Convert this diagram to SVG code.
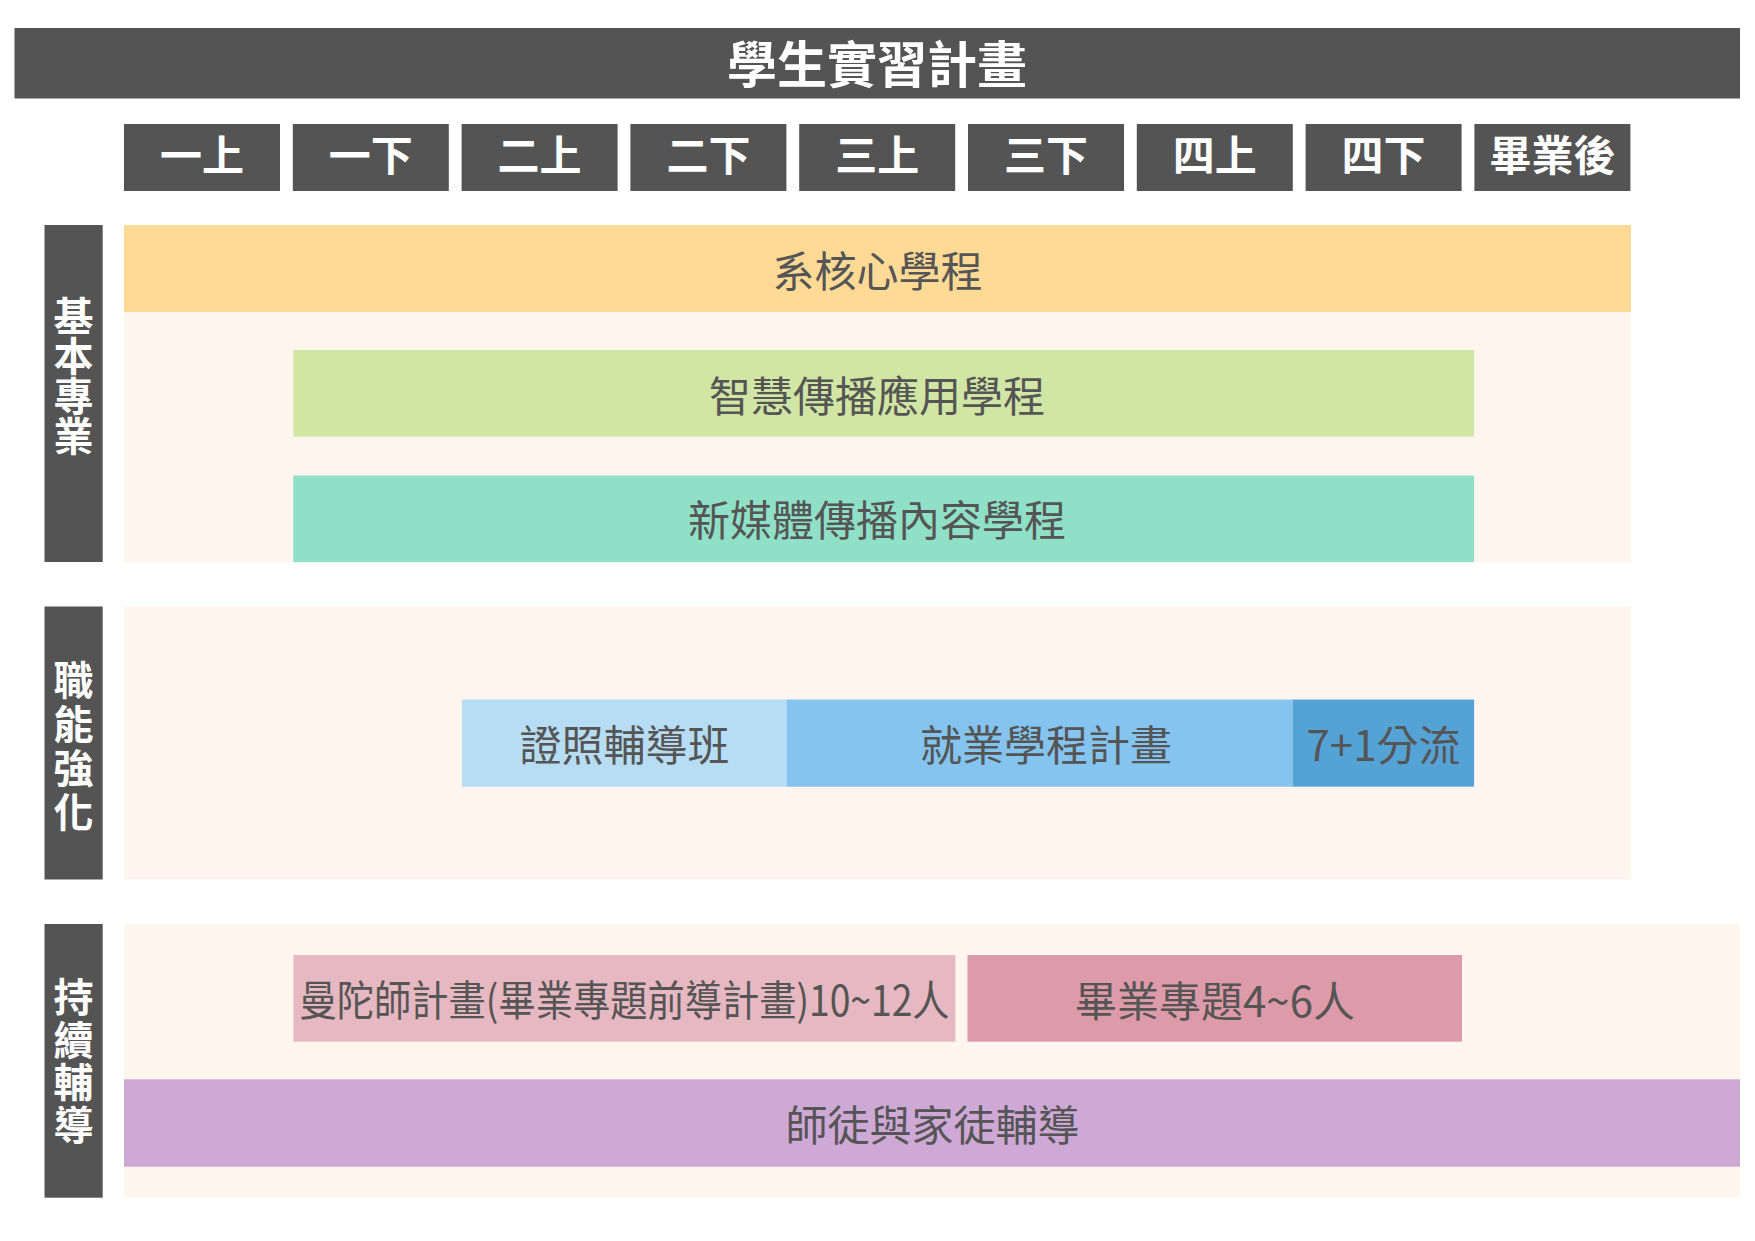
<svg xmlns="http://www.w3.org/2000/svg" width="1755" height="1241" viewBox="0 0 1755 1241">
<style>
  .dark { fill: #545454; }
  .panel { fill: #FEF5EE; }
  .hd { font-family: "Noto Sans CJK TC", "Noto Sans CJK SC", sans-serif; font-weight: 700; fill: #FFFFFF; text-anchor: middle; }
  .lbl { font-family: "Noto Sans CJK TC", "Noto Sans CJK SC", sans-serif; font-weight: 400; fill: #555555; text-anchor: middle; font-size: 42px; }
  .side { font-family: "Noto Sans CJK TC", "Noto Sans CJK SC", sans-serif; font-weight: 700; fill: #FFFFFF; text-anchor: middle; font-size: 40px; writing-mode: vertical-rl; text-orientation: upright; }
</style>
<rect width="1755" height="1241" fill="#FFFFFF"/>

<g id="title">
  <rect class="dark" x="14.5" y="28" width="1725.5" height="70.5"/>
  <text class="hd" x="877" y="82.5" font-size="50">學生實習計畫</text>
</g>

<g id="years">
  <g id="y1"><rect class="dark" x="124" y="124" width="156" height="67"/><text class="hd" x="202" y="171.3" font-size="42">一上</text></g>
  <g id="y2"><rect class="dark" x="292.8" y="124" width="156" height="67"/><text class="hd" x="370.8" y="171.3" font-size="42">一下</text></g>
  <g id="y3"><rect class="dark" x="461.6" y="124" width="156" height="67"/><text class="hd" x="539.6" y="171.3" font-size="42">二上</text></g>
  <g id="y4"><rect class="dark" x="630.4" y="124" width="156" height="67"/><text class="hd" x="708.4" y="171.3" font-size="42">二下</text></g>
  <g id="y5"><rect class="dark" x="799.2" y="124" width="156" height="67"/><text class="hd" x="877.2" y="171.3" font-size="42">三上</text></g>
  <g id="y6"><rect class="dark" x="968" y="124" width="156" height="67"/><text class="hd" x="1046" y="171.3" font-size="42">三下</text></g>
  <g id="y7"><rect class="dark" x="1136.8" y="124" width="156" height="67"/><text class="hd" x="1214.8" y="171.3" font-size="42">四上</text></g>
  <g id="y8"><rect class="dark" x="1305.6" y="124" width="156" height="67"/><text class="hd" x="1383.6" y="171.3" font-size="42">四下</text></g>
  <g id="y9"><rect class="dark" x="1474.4" y="124" width="156" height="67"/><text class="hd" x="1552.4" y="171.3" font-size="42">畢業後</text></g>
</g>

<g id="section-basic">
  <rect class="panel" x="124" y="225" width="1507" height="337"/>
  <rect class="dark" x="44.5" y="225" width="58.2" height="337"/>
  <text class="side" x="73.6" y="376">基本專業</text>
</g>
<g id="core">
  <rect x="124" y="225" width="1507" height="87" fill="#FFDA95"/>
  <text class="lbl" x="877.5" y="287">系核心學程</text>
</g>
<g id="smart">
  <rect x="293.3" y="350" width="1180.8" height="86.7" fill="#D1E6A4"/>
  <text class="lbl" x="877" y="411.5">智慧傳播應用學程</text>
</g>
<g id="newmedia">
  <rect x="293.3" y="475.5" width="1180.8" height="86.7" fill="#90E0C7"/>
  <text class="lbl" x="877" y="536">新媒體傳播內容學程</text>
</g>

<g id="section-skill">
  <rect class="panel" x="124" y="606.5" width="1507" height="273"/>
  <rect class="dark" x="44.5" y="606.5" width="58.2" height="273"/>
  <text class="side" x="73.6" y="748" letter-spacing="4">職能強化</text>
</g>
<g id="cert">
  <rect x="462" y="699.5" width="324.5" height="87.2" fill="#B7DDF4"/>
  <text class="lbl" x="624.5" y="761">證照輔導班</text>
</g>
<g id="employ">
  <rect x="786.5" y="699.5" width="506" height="87.2" fill="#84C4EF"/>
  <text class="lbl" x="1046" y="761">就業學程計畫</text>
</g>
<g id="split">
  <rect x="1292.5" y="699.5" width="181.6" height="87.2" fill="#55A3D5"/>
  <text class="lbl" x="1383.5" y="761">7+1分流</text>
</g>

<g id="section-guide">
  <rect class="panel" x="124" y="924" width="1616" height="273.7"/>
  <rect class="dark" x="44.5" y="924" width="58.2" height="273.7"/>
  <text class="side" x="73.6" y="1062" letter-spacing="2.5">持續輔導</text>
</g>
<g id="mentor">
  <rect x="293.4" y="955" width="662" height="86.7" fill="#E6B8C1"/>
  <text class="lbl" x="624.6" y="1016" font-size="38" textLength="650" lengthAdjust="spacingAndGlyphs">曼陀師計畫(畢業專題前導計畫)10~12人</text>
</g>
<g id="capstone">
  <rect x="967.5" y="955" width="494.5" height="86.7" fill="#DD9AA9"/>
  <text class="lbl" x="1215" y="1017" font-size="41">畢業專題4~6人</text>
</g>
<g id="family">
  <rect x="124" y="1079.3" width="1616" height="87.4" fill="#CFA9D6"/>
  <text class="lbl" x="932.5" y="1141">師徒與家徒輔導</text>
</g>
</svg>
